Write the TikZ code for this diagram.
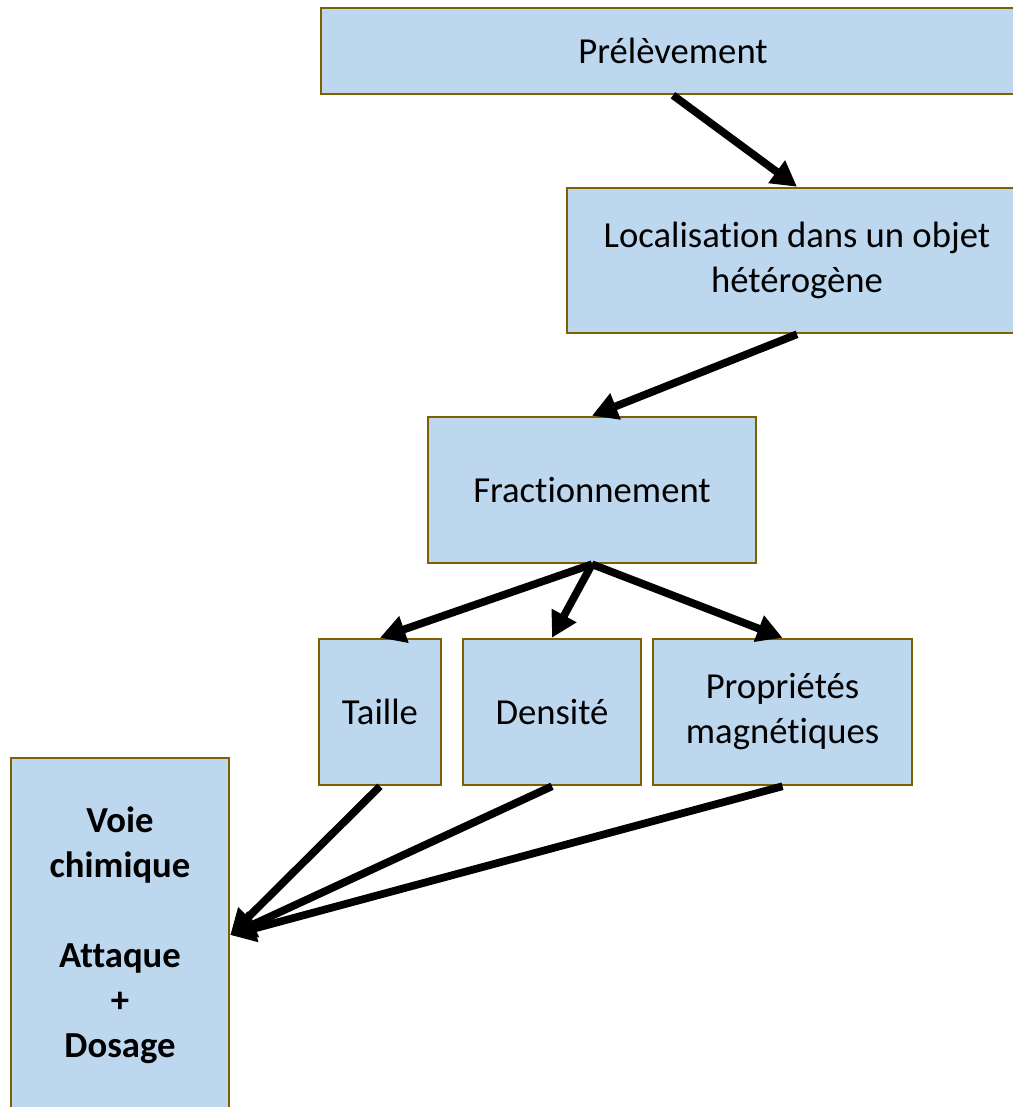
\documentclass[tikz,border=0pt]{standalone}
\usepackage{fontspec}
\setmainfont[Ligatures={NoCommon,NoContextual},RawFeature={-dlig,-calt,-rlig}]{Carlito}
\usetikzlibrary{arrows.meta}
\definecolor{boxfill}{RGB}{189,215,238}
\definecolor{boxline}{RGB}{127,96,0}
\begin{document}
\begin{tikzpicture}[x=0.75pt,y=-0.75pt,
  box/.style={draw=boxline, fill=boxfill, line width=1.9pt, inner sep=0pt,
    align=center, font=\fontsize{27.5}{33.75}\selectfont},
  flow/.style={line width=5.8pt, -{Triangle[length=19pt,width=20pt]}}]
\useasboundingbox (0,0) rectangle (1013,1107);
\clip (0,0) rectangle (1013,1107);
% process boxes
\node[box, minimum width=528pt, minimum height=64.5pt] (pre) at (673,51) {Prélèvement};
\node[box, minimum width=345pt, minimum height=108.75pt] (loc) at (797,260.5) {Localisation dans un objet\\hétérogène};
\node[box, minimum width=246pt, minimum height=109.5pt] (frac) at (592,490) {Fractionnement};
\node[box, minimum width=91.5pt, minimum height=109.5pt] (taille) at (380,712) {Taille};
\node[box, minimum width=133.5pt, minimum height=109.5pt] (dens) at (552,712) {Densité};
\node[box, minimum width=194.25pt, minimum height=109.5pt] (prop) at (782.5,712) {Propriétés\\magnétiques};
\node[box, minimum width=163.5pt, minimum height=265.5pt, font=\fontsize{27.5}{33.75}\selectfont\bfseries] (voie) at (120,935)
  {Voie\\chimique\\\mbox{}\\Attaque\\+\\Dosage};
% connectors
\draw[flow] (pre.south) -- (loc.north);
\draw[flow] (loc.south) -- (frac.north);
\draw[flow] (frac.south) -- (taille.north);
\draw[flow] (frac.south) -- (dens.north);
\draw[flow] (frac.south) -- (prop.north);
\draw[flow] (taille.south) -- (voie.east);
\draw[flow] (dens.south) -- (voie.east);
\draw[flow] (prop.south) -- (voie.east);
\end{tikzpicture}
\end{document}
